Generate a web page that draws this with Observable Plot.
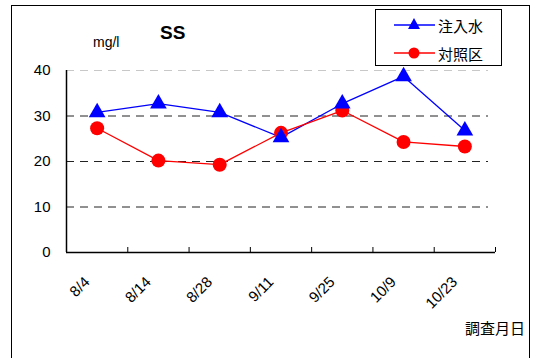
<!DOCTYPE html>
<html><head><meta charset="utf-8">
<script src="https://cdn.jsdelivr.net/npm/d3@7"></script>
<script src="https://cdn.jsdelivr.net/npm/@observablehq/plot@0.6"></script>
<style>
body{margin:0;overflow:hidden;background:#fff;font-family:"Liberation Sans","Noto Sans CJK JP",sans-serif;}
#wrap{position:relative;width:540px;height:358px;overflow:hidden;}
#frame{position:absolute;left:11px;top:5px;width:519px;height:400px;border:1.5px solid #000;box-sizing:border-box;}
.lbl{position:absolute;white-space:nowrap;color:#000;line-height:1;}
#legend{position:absolute;left:375px;top:9px;width:127px;height:57px;border:1px solid #000;box-sizing:border-box;background:#fff;}
#legend .row{position:absolute;left:0;height:20px;display:flex;align-items:center;}
#legend svg{display:block}
#legend span{font-family:"Noto Sans CJK JP",sans-serif;font-size:15px;margin-left:3px;}
</style></head>
<body><div id="wrap"><div id="frame"></div><div id="chart" style="position:absolute;left:0;top:0"></div>
<div class="lbl" style="left:160px;top:23px;font-size:19px;font-weight:bold;font-family:'Liberation Sans',sans-serif">SS</div>
<div class="lbl" style="left:93px;top:35px;font-size:14px;">mg/l</div>
<div class="lbl" style="left:465px;top:320px;font-size:15px;font-family:'Noto Sans CJK JP',sans-serif">調査月日</div>
<div id="legend"></div>
</div>
<script>
const dates = ["8/4","8/14","8/28","9/11","9/25","10/9","10/23"];
const inflow = [30.8, 32.7, 30.8, 25.3, 32.7, 38.7, 26.8];
const control = [27.3, 20.2, 19.3, 26.3, 31.2, 24.3, 23.3];
const yTicks = [0, 10, 20, 30, 40];
const seriesNames = ["注入水", "対照区"];
const seriesColors = ["#0000ff", "#ff0000"];

const idx = dates.map((d, i) => i);
const rowsA = idx.map(i => ({i, v: inflow[i]}));
const rowsB = idx.map(i => ({i, v: control[i]}));
const bounds = d3.range(dates.length + 1).map(k => k - 0.5);

const plot = Plot.plot({
  width: 540, height: 358,
  marginLeft: 66, marginRight: 45, marginTop: 70, marginBottom: 106,
  x: {type: "linear", domain: [-0.5, dates.length - 0.5], axis: null},
  y: {domain: [0, 40], axis: null},
  style: {fontFamily: "Liberation Sans, sans-serif", background: "transparent"},
  marks: [
    Plot.ruleY(yTicks.filter(t => t > 0 && t < 40), {stroke: "#222", strokeWidth: 1, strokeDasharray: "8,6", insetRight: 7}),
    Plot.ruleY([40], {stroke: "#c8c8c8", strokeWidth: 1, strokeDasharray: "8,6", insetRight: 7}),
    Plot.ruleX(bounds.slice(1), {x: d => d, y1: 0, y2: 0, insetTop: -5, stroke: "#000", strokeWidth: 1}),
    Plot.ruleY([0], {stroke: "#000", strokeWidth: 1.5}),
    Plot.ruleX([-0.5], {stroke: "#000", strokeWidth: 1.5}),
    Plot.text(yTicks, {x: -0.5, y: d => d, text: d => String(d), textAnchor: "end", dx: -16, fontSize: 15, fill: "#000"}),
    Plot.text(idx, {x: d => d, y: 0, text: d => dates[d], rotate: -45, textAnchor: "end", dx: -10, dy: 27, fontSize: 15, fill: "#000"}),
    Plot.line(rowsA, {x: "i", y: "v", stroke: seriesColors[0], strokeWidth: 1.3}),
    Plot.line(rowsB, {x: "i", y: "v", stroke: seriesColors[1], strokeWidth: 1.3}),
    Plot.dot(rowsB, {x: "i", y: "v", r: 7, fill: seriesColors[1], stroke: "none"}),
    Plot.dot(rowsA, {x: "i", y: "v", symbol: "triangle", r: 6.2, fill: seriesColors[0], stroke: "none"})
  ]
});
document.getElementById("chart").appendChild(plot);

const legend = document.getElementById("legend");
seriesNames.forEach((name, k) => {
  const row = document.createElement("div");
  row.className = "row";
  row.style.top = (k === 0 ? 5 : 33) + "px";
  row.style.left = "18px";
  const sym = k === 0
    ? `<path d="M20,3 L26,14 L14,14 Z" fill="${seriesColors[k]}"/>`
    : `<circle cx="20" cy="10" r="5.5" fill="${seriesColors[k]}"/>`;
  row.innerHTML = `<svg width="41" height="20"><line x1="0" x2="41" y1="10" y2="10" stroke="${seriesColors[k]}" stroke-width="1.3"/>${sym}</svg><span>${name}</span>`;
  legend.appendChild(row);
});
</script>
</body></html>
